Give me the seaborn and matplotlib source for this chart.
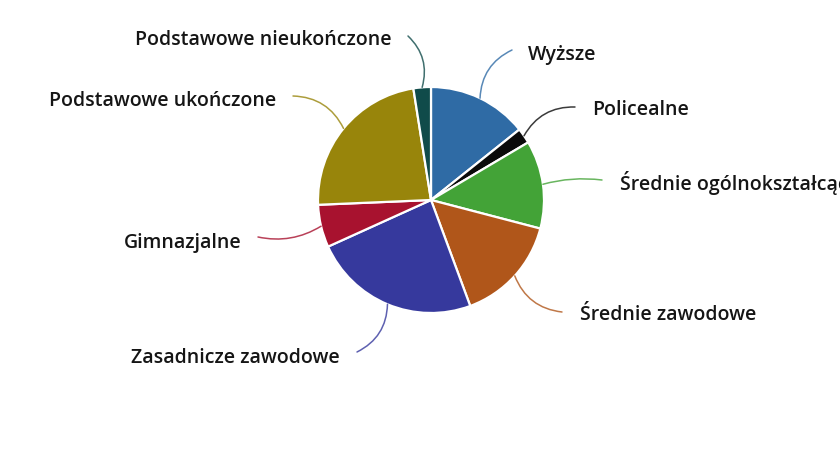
import numpy as np
import matplotlib
matplotlib.use("Agg")
import matplotlib.pyplot as plt
import seaborn as sns

# education levels, shares in percent
categories = ["Wyższe", "Policealne", "Średnie ogólnokształcące", "Średnie zawodowe",
              "Zasadnicze zawodowe", "Gimnazjalne", "Podstawowe ukończone",
              "Podstawowe nieukończone"]
shares = [14.3, 2.2, 12.6, 15.3, 23.9, 6.1, 23.2, 2.5]
colors = ["#2f6ba5", "#0a0a0a", "#43a337", "#b0561a", "#36399d", "#a8122f",
          "#98850b", "#104b4a"]

sns.set_theme(style="white")
plt.rcParams['font.family'] = ['DejaVu Sans']

W, H, R = 840, 454, 113
cx, cy = 431, 200

fig = plt.figure(figsize=(8.4, 4.54), dpi=100)
ax = fig.add_axes([0, 0, 1, 1])

wedges, _ = ax.pie(shares, colors=colors, startangle=90, counterclock=False,
                   radius=1, wedgeprops=dict(edgecolor="white", linewidth=1.6))

# pie() resets the limits, so map data units to pixels afterwards
ax.set_aspect("auto")
ax.set_xlim(-cx / R, (W - cx) / R)
ax.set_ylim((cy - H) / R, cy / R)
ax.axis("off")


def px(x, y):
    return (x - cx) / R, (cy - y) / R


# label placement in pixels: text anchor x, y, side, connector end x, y, curvature
place = [
    (528, 55, "left", 512, 50, 0.3),
    (592, 110, "left", 575, 107, 0.3),
    (620, 183, "left", 602, 180, 0.1),
    (580, 315, "left", 562, 312, -0.3),
    (340, 358, "right", 357, 352, 0.3),
    (242, 243, "right", 258, 237, 0.2),
    (276, 101, "right", 293, 96, -0.3),
    (392, 40, "right", 408, 36, -0.3),
]

for w, name, col, (tx, ty, ha, ex, ey, rad) in zip(wedges, categories, colors, place):
    mid = np.deg2rad((w.theta1 + w.theta2) / 2)
    anchor = (np.cos(mid), np.sin(mid))
    ax.annotate("", xy=anchor, xytext=px(ex, ey),
                arrowprops=dict(arrowstyle="-", color=col, lw=1.1, alpha=0.8,
                                shrinkA=0, shrinkB=0,
                                connectionstyle=f"arc3,rad={rad}"))
    ax.text(*px(tx, ty), name, ha=ha, va="center", fontsize=14,
            fontweight="semibold", family=["Open Sans", "DejaVu Sans"],
            color="#151515")

fig.savefig("out.png", dpi=100)
